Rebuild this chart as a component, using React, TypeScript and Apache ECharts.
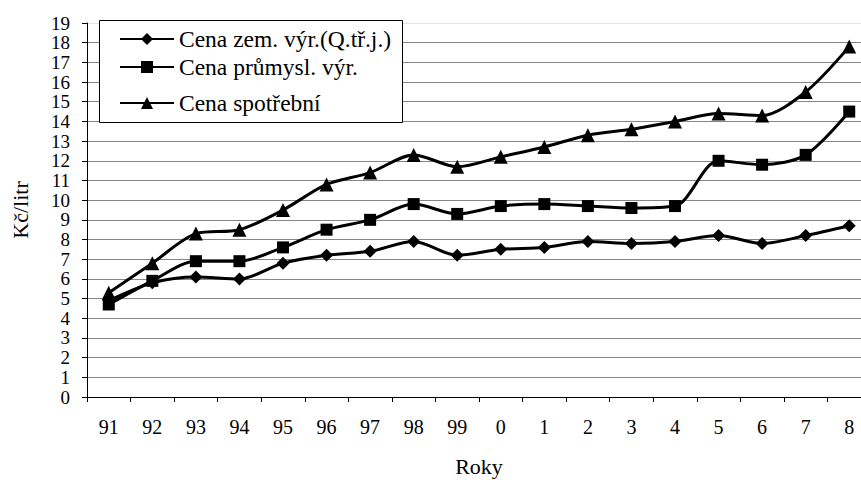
import React, { useEffect, useRef } from "react";
import * as echarts from "echarts";

const categories = ["91", "92", "93", "94", "95", "96", "97", "98", "99", "0", "1", "2", "3", "4", "5", "6", "7", "8"];
const zemValues = [4.9, 5.8, 6.1, 6.0, 6.8, 7.2, 7.4, 7.9, 7.2, 7.5, 7.6, 7.9, 7.8, 7.9, 8.2, 7.8, 8.2, 8.7];
const prumValues = [4.7, 5.9, 6.9, 6.9, 7.6, 8.5, 9.0, 9.8, 9.3, 9.7, 9.8, 9.7, 9.6, 9.7, 12.0, 11.8, 12.3, 14.5];
const spotrValues = [5.3, 6.8, 8.3, 8.5, 9.5, 10.8, 11.4, 12.3, 11.7, 12.2, 12.7, 13.3, 13.6, 14.0, 14.4, 14.3, 15.5, 17.8];
const seriesNames = ["Cena zem. výr.(Q.tř.j.)", "Cena průmysl. výr.", "Cena spotřební"];
const yName = "Kč/litr";
const xName = "Roky";

const FONT = "Liberation Serif";
const legendTops = [27, 55, 91];

export default function App() {
  const ref = useRef<HTMLDivElement>(null);
  useEffect(() => {
    if (!ref.current) return;
    const chart = echarts.init(ref.current, undefined, { renderer: "svg" });
    const gridColors: string[] = [];
    for (let i = 0; i < 19; i++) gridColors.push("#868686");
    gridColors.push("#e4e4e4");
    const mk = (name: string, data: number[], symbol: string, size: number) => ({
      name,
      type: "line",
      data,
      smooth: 0.3,
      symbol,
      symbolSize: size,
      showSymbol: true,
      lineStyle: { color: "#000", width: 3 },
      itemStyle: { color: "#000", borderColor: "#000", borderWidth: 0 },
      z: 5,
    });
    const legends = seriesNames.map((n, i) => ({
      orient: "vertical",
      left: 119,
      top: legendTops[i],
      padding: 0,
      itemWidth: 54,
      itemHeight: 15,
      z: 20,
      data: [n],
      textStyle: { fontFamily: FONT, fontSize: 23.5, color: "#000", lineHeight: 24 },
    }));
    chart.setOption({
      animation: false,
      backgroundColor: "#fff",
      textStyle: { fontFamily: FONT },
      grid: {
        left: 87,
        top: 23,
        width: 784,
        height: 374,
        containLabel: false,
        outerBoundsMode: "none",
      },
      legend: legends,
      graphic: [
        {
          type: "rect",
          z: 15,
          shape: { x: 99.5, y: 20.5, width: 303, height: 102 },
          style: { fill: "#fff", stroke: "#000", lineWidth: 1 },
        },
      ],
      xAxis: {
        type: "category",
        data: categories,
        boundaryGap: true,
        name: xName,
        nameLocation: "middle",
        nameGap: 58,
        nameTextStyle: { fontFamily: FONT, fontSize: 22, color: "#000" },
        axisLine: { lineStyle: { color: "#000", width: 1 } },
        axisTick: { show: true, length: 5, alignWithLabel: false, lineStyle: { color: "#000" } },
        axisLabel: { interval: 0, margin: 20, fontFamily: FONT, fontSize: 20, color: "#000" },
        splitLine: { show: false },
      },
      yAxis: {
        type: "value",
        min: 0,
        max: 19,
        interval: 1,
        name: yName,
        nameLocation: "middle",
        nameRotate: 90,
        nameGap: 56,
        nameTextStyle: { fontFamily: FONT, fontSize: 22, color: "#000" },
        axisLine: { show: true, lineStyle: { color: "#000", width: 1 } },
        axisTick: { show: true, length: 5, lineStyle: { color: "#000" } },
        axisLabel: {
          margin: 17,
          fontFamily: FONT,
          fontSize: 19,
          lineHeight: 18,
          color: "#000",
          showMinLabel: true,
          showMaxLabel: true,
          hideOverlap: false,
        },
        splitLine: { show: true, lineStyle: { color: gridColors, width: 1 } },
      },
      series: [
        mk(seriesNames[0], zemValues, "diamond", 13),
        mk(seriesNames[1], prumValues, "rect", 12),
        mk(seriesNames[2], spotrValues, "triangle", 14),
      ],
    });
    return () => chart.dispose();
  }, []);
  return (
    <div
      ref={ref}
      style={{ position: "fixed", left: 0, top: 0, width: 861, height: 480, background: "#fff" }}
    />
  );
}
